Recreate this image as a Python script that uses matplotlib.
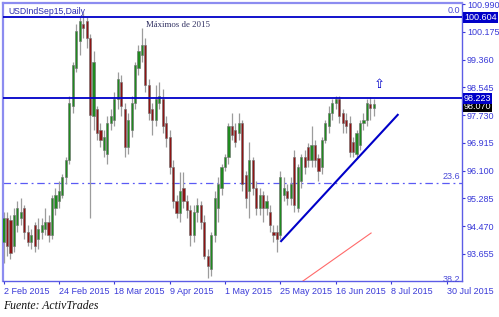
import matplotlib
matplotlib.use("Agg")
import matplotlib.pyplot as plt
import matplotlib.transforms as mtransforms
import numpy as np

# daily OHLC, USD index Sep-15 futures, one bar per weekday from 2 Feb 2015
opens = [94.0, 94.7, 94.65, 93.9, 94.5, 94.7, 95.0, 94.3, 94.0, 94.5,
         94.1, 94.3, 94.4, 94.6, 94.2, 95.0, 95.2, 95.4, 95.9, 96.4,
         98.0, 99.1, 99.9, 100.4, 100.5, 99.98, 97.7, 97.9, 97.3, 96.7,
         96.6, 97.5, 97.6, 98.2, 98.7, 97.9, 96.8, 97.3, 98.1, 99.1,
         99.5, 99.8, 98.6, 97.9, 97.6, 98.1, 98.2, 97.5, 97.1, 96.2,
         95.2, 94.85, 95.6, 95.2, 94.95, 94.2, 94.9, 95.1, 94.6, 93.6,
         93.2, 94.2, 95.0, 95.6, 96.2, 96.5, 97.4, 97.3, 97.2, 97.5,
         95.97, 95.5, 96.4, 95.6, 95.0, 95.4, 95.0, 94.9, 94.3, 94.3,
         94.2, 95.4, 95.5, 95.3, 96.5, 95.0, 95.8, 96.5, 96.8, 96.4,
         96.85, 96.46, 96.2, 97.0, 97.4, 97.8, 98.1, 98.2, 97.8, 97.6,
         97.5, 96.95, 96.6, 96.85, 97.5, 97.6, 98.07, 97.93]
highs = [94.9, 94.9, 94.8, 95.0, 95.2, 95.3, 95.1, 94.5, 94.4, 94.6,
         94.7, 94.7, 95.0, 94.8, 95.4, 95.6, 95.8, 96.0, 96.5, 98.3,
         99.3, 100.4, 100.6, 100.72, 100.6, 100.1, 99.6, 98.0, 97.5, 97.3,
         97.7, 97.9, 98.4, 99.0, 98.9, 98.1, 97.8, 98.3, 99.3, 99.8,
         100.29, 100.0, 98.8, 98.1, 98.6, 98.7, 98.5, 97.7, 97.3, 96.4,
         95.4, 96.07, 96.07, 95.4, 95.1, 95.1, 95.3, 95.2, 94.8, 93.8,
         94.3, 95.5, 95.9, 96.3, 96.6, 97.5, 97.8, 97.5, 97.8, 97.6,
         96.1, 96.95, 96.5, 95.8, 95.6, 95.5, 95.4, 95.1, 94.5, 94.5,
         96.1, 95.9, 95.7, 95.9, 96.7, 96.3, 96.6, 96.7, 96.9, 97.4,
         97.0, 96.6, 97.1, 97.6, 98.0, 98.2, 98.3, 98.3, 97.9, 97.8,
         97.7, 97.1, 97.3, 97.6, 97.8, 98.2, 98.27, 98.2]
lows = [93.4, 93.6, 93.5, 93.7, 94.3, 94.5, 94.1, 93.9, 93.8, 93.7,
        93.8, 94.1, 94.2, 94.0, 94.1, 94.8, 95.0, 95.3, 95.7, 96.3,
        97.8, 99.0, 99.5, 100.0, 99.7, 94.7, 97.3, 97.0, 96.8, 96.5,
        96.3, 97.3, 97.4, 97.9, 97.7, 96.5, 96.6, 97.1, 97.9, 98.9,
        99.3, 98.4, 97.6, 97.15, 97.4, 97.9, 97.2, 96.8, 96.0, 95.0,
        94.7, 94.6, 95.0, 94.7, 93.9, 94.0, 94.6, 94.4, 93.5, 92.95,
        93.0, 94.0, 94.6, 95.4, 96.1, 96.3, 97.0, 96.8, 97.0, 95.5,
        95.0, 94.7, 95.4, 94.8, 94.8, 94.6, 94.8, 94.3, 94.0, 93.7,
        94.1, 95.2, 95.1, 95.1, 94.9, 94.9, 95.6, 96.0, 96.2, 96.2,
        96.2, 95.8, 96.0, 96.9, 97.2, 97.6, 97.9, 97.5, 97.2, 97.2,
        96.5, 96.5, 96.45, 96.7, 97.3, 97.4, 97.6, 97.7]
closes = [94.7, 93.9, 93.67, 94.8, 95.0, 94.9, 94.3, 94.0, 94.2, 93.9,
          94.4, 94.5, 94.6, 94.2, 95.3, 95.4, 95.5, 95.9, 96.4, 98.1,
          99.2, 100.2, 100.5, 100.3, 99.98, 97.73, 99.3, 97.2, 97.0, 97.1,
          97.5, 97.7, 98.2, 98.8, 98.0, 96.8, 97.6, 98.1, 99.2, 99.6,
          99.8, 98.6, 97.8, 97.6, 98.2, 98.3, 97.4, 97.05, 96.2, 95.2,
          94.85, 95.5, 95.2, 94.95, 94.2, 94.9, 95.1, 94.6, 93.6, 93.3,
          94.2, 95.3, 95.7, 96.2, 96.5, 97.4, 97.15, 96.95, 97.5, 95.7,
          95.3, 96.4, 95.6, 95.0, 95.4, 95.0, 95.2, 94.5, 94.2, 94.1,
          95.9, 95.6, 95.3, 95.7, 95.1, 96.2, 96.5, 96.2, 96.4, 96.85,
          96.4, 96.1, 97.0, 97.5, 97.8, 98.1, 98.2, 97.7, 97.5, 97.4,
          96.65, 96.65, 97.2, 97.5, 97.6, 98.1, 97.93, 98.07]

date_ticks = [0, 16, 32, 48, 64, 80, 96, 112, 128]
date_labels = ["2 Feb 2015", "24 Feb 2015", "18 Mar 2015", "9 Apr 2015", "1 May 2015",
               "25 May 2015", "16 Jun 2015", "8 Jul 2015", "30 Jul 2015"]
price_ticks = [100.990, 100.175, 99.360, 98.545, 97.730, 96.915, 96.100, 95.285, 94.470, 93.655]

year_high = 100.604
resistance = 98.223
last_close = 98.070
fib_236 = 95.74
fib_382 = 92.73
trend_x = [80.0, 114.1]
trend_y = [94.01, 97.76]
red_x = [86.5, 106.2]
red_y = [92.86, 94.27]

W, H = 499, 317
fig = plt.figure(figsize=(W / 100, H / 100), dpi=100)
fig.patch.set_facecolor("white")
ax = fig.add_axes([3 / W, 1 - 281 / H, 459 / W, 278 / H])
ax.set_xlim(-0.15, 132.47)
ax.set_ylim(92.862, 101.02)

o = np.array(opens)
h = np.array(highs)
l = np.array(lows)
c = np.array(closes)
x = np.arange(len(c))
bull = c >= o
body_lo = np.minimum(o, c)
body_h = np.maximum(np.abs(c - o), 0.03)

ax.vlines(x, l, h, color="#9c9c9c", lw=0.9, zorder=2)
ax.bar(x, body_h, bottom=body_lo, width=0.62,
       color=np.where(bull, "#1f8a1f", "#8e1414"), edgecolor="#6f6f6f", linewidth=0.4, zorder=3)

blue = "#0000c8"
axis_blue = "#3a3ad8"
ax.axhline(year_high, color=blue, lw=1.3, zorder=4)
ax.axhline(resistance, color=blue, lw=1.3, zorder=4)
ax.axhline(fib_236, color="#5a5af5", lw=0.9, ls=(0, (6, 3, 1.5, 3)), zorder=1)
ax.plot(trend_x, trend_y, color=blue, lw=1.5, zorder=5, solid_capstyle="butt")
ax.plot(red_x, red_y, color="#ff6a6a", lw=0.8, zorder=5)

for side in ("left", "top"):
    ax.spines[side].set_color("#8c8cf0")
    ax.spines[side].set_linewidth(1.6)
for side in ("right", "bottom"):
    ax.spines[side].set_color("#5c5ce6")
    ax.spines[side].set_linewidth(1.0)

ax.yaxis.tick_right()
ax.set_yticks(price_ticks)
ax.set_yticklabels([f"{v:.3f}" for v in price_ticks])
ax.set_xticks(date_ticks)
ax.set_xticklabels(date_labels)
ax.tick_params(axis="both", direction="out", length=2.5, width=0.8, color=axis_blue,
               labelcolor=axis_blue, labelsize=6.5, pad=1)
ax.tick_params(axis="x", pad=2)
for lab in ax.get_xticklabels():
    lab.set_horizontalalignment("left")
    lab.set_fontfamily("Liberation Sans")
for lab in ax.get_yticklabels():
    lab.set_fontfamily("Liberation Sans")

# price boxes on the right scale (last price sits half hidden under the line box)
ytr = mtransforms.blended_transform_factory(ax.transAxes, ax.transData)
ax.text(1.004, last_close - 0.08, f"{last_close:.3f}", transform=ytr, color="white", fontsize=6.5,
        family="Liberation Sans", va="center", ha="left", zorder=6, clip_on=False,
        bbox=dict(boxstyle="square,pad=0.12", fc="black", ec="none"))
for val in (year_high, resistance):
    ax.text(1.004, val, f"{val:.3f}", transform=ytr, color="white", fontsize=6.5,
            family="Liberation Sans", va="center", ha="left", zorder=7, clip_on=False,
            bbox=dict(boxstyle="square,pad=0.12", fc=blue, ec="none"))

# fibo level labels
ax.text(0.995, year_high + 0.05, "0.0", transform=ytr, color="#4a4ad8", fontsize=6.5,
        family="Liberation Sans", ha="right", va="bottom")
ax.text(0.995, fib_236 + 0.05, "23.6", transform=ytr, color="#4a4ad8", fontsize=6.5,
        family="Liberation Sans", ha="right", va="bottom")
ax.text(0.995, fib_382 + 0.05, "38.2", transform=ytr, color="#4a4ad8", fontsize=6.5,
        family="Liberation Sans", ha="right", va="bottom", clip_on=False)

ax.text(5 / 459, 1 - 8 / 278, "USDIndSep15,Daily", transform=ax.transAxes, color="#2a2ab0",
        fontsize=6.2, family="Liberation Sans", ha="left", va="center")
ax.text(175 / 459, year_high - 0.12, "Máximos de 2015", transform=ytr,
        color="#2e2e60", fontsize=6.3, family="Liberation Serif", ha="center", va="top")
ax.text(108.6, 98.62, "⇧", color=blue, fontsize=9.5, family="DejaVu Sans", ha="center", va="center")

fig.text(3 / W, 1 - 306 / H, "Fuente: ActivTrades", fontsize=8.5, family="Liberation Serif",
         style="italic", color="#111111", ha="left", va="center")

fig.savefig("out.png", dpi=100)
